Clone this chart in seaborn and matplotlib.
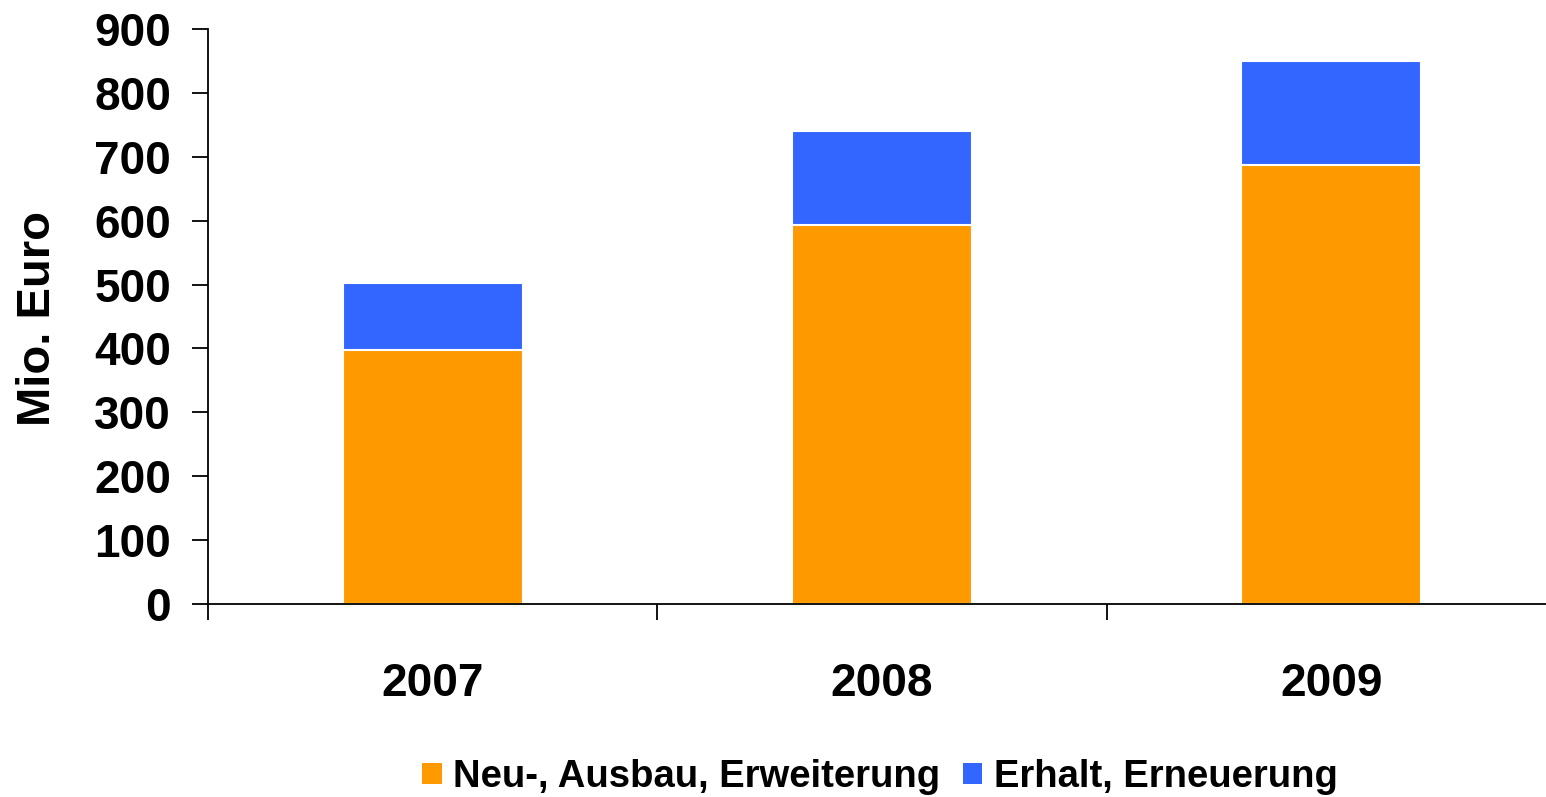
import matplotlib
matplotlib.use("Agg")
import matplotlib.pyplot as plt
from matplotlib.patches import Patch
import seaborn as sns
import pandas as pd

years = ["2007", "2008", "2009"]
neu_ausbau = [397, 593, 687]
erhalt = [105, 147, 163]
series_names = ["Neu-, Ausbau, Erweiterung", "Erhalt, Erneuerung"]
y_ticks = [0, 100, 200, 300, 400, 500, 600, 700, 800, 900]

ORANGE = "#FF9900"
BLUE = "#3366FF"

sns.set_theme(style="white")
plt.rcParams["font.family"] = ["Liberation Sans", "DejaVu Sans"]
plt.rcParams["font.weight"] = "bold"
plt.rcParams["text.color"] = "black"

df = pd.DataFrame({
    "year": years,
    "neu": neu_ausbau,
    "total": [a + b for a, b in zip(neu_ausbau, erhalt)],
})

fig = plt.figure(figsize=(15.46, 7.97), dpi=100)
W, H = 1546, 797
ax = fig.add_axes([208 / W, 1 - 604 / H, (1556 - 208) / W, (604 - 29) / H])

sns.barplot(data=df, x="year", y="total", color=BLUE, width=0.4, saturation=1,
            edgecolor="white", linewidth=1.5, ax=ax)
sns.barplot(data=df, x="year", y="neu", color=ORANGE, width=0.4, saturation=1,
            edgecolor="white", linewidth=1.5, ax=ax)

ax.set_xlim(-0.5, 2.5)
ax.set_ylim(0, 900)
ax.set_yticks(y_ticks)
ax.set_xlabel("")
ax.set_ylabel("")
for s in ["top", "right"]:
    ax.spines[s].set_visible(False)
for s in ["left", "bottom"]:
    ax.spines[s].set_color("black")
    ax.spines[s].set_linewidth(1.3)

ax.tick_params(axis="y", which="major", direction="out", length=11.5, width=1.3,
               color="black", pad=15, labelsize=33, left=True)
ax.tick_params(axis="x", which="major", length=0, pad=42, labelsize=33)
ax.set_xticks([-0.5, 0.5, 1.5, 2.5], minor=True)
ax.tick_params(axis="x", which="minor", direction="out", length=11.5, width=1.3,
               color="black", bottom=True)
for lab in ax.get_xticklabels() + ax.get_yticklabels():
    lab.set_fontweight("bold")
    lab.set_color("black")

fig.text(38 / W, 1 - 319 / H, "Mio. Euro", rotation=90, ha="center", va="center",
         fontsize=34, fontweight="bold", color="black")

handles = [Patch(facecolor=ORANGE, edgecolor="none", label=series_names[0]),
           Patch(facecolor=BLUE, edgecolor="none", label=series_names[1])]
leg = fig.legend(handles=handles, loc="center", bbox_to_anchor=(880 / W, 1 - 777 / H),
                 ncol=2, frameon=False, fontsize=27.5, handlelength=0.5,
                 handleheight=0.5, handletextpad=0.3, columnspacing=0.6)
for t in leg.get_texts():
    t.set_fontweight("bold")
    t.set_color("black")

fig.savefig("out.png", dpi=100)
